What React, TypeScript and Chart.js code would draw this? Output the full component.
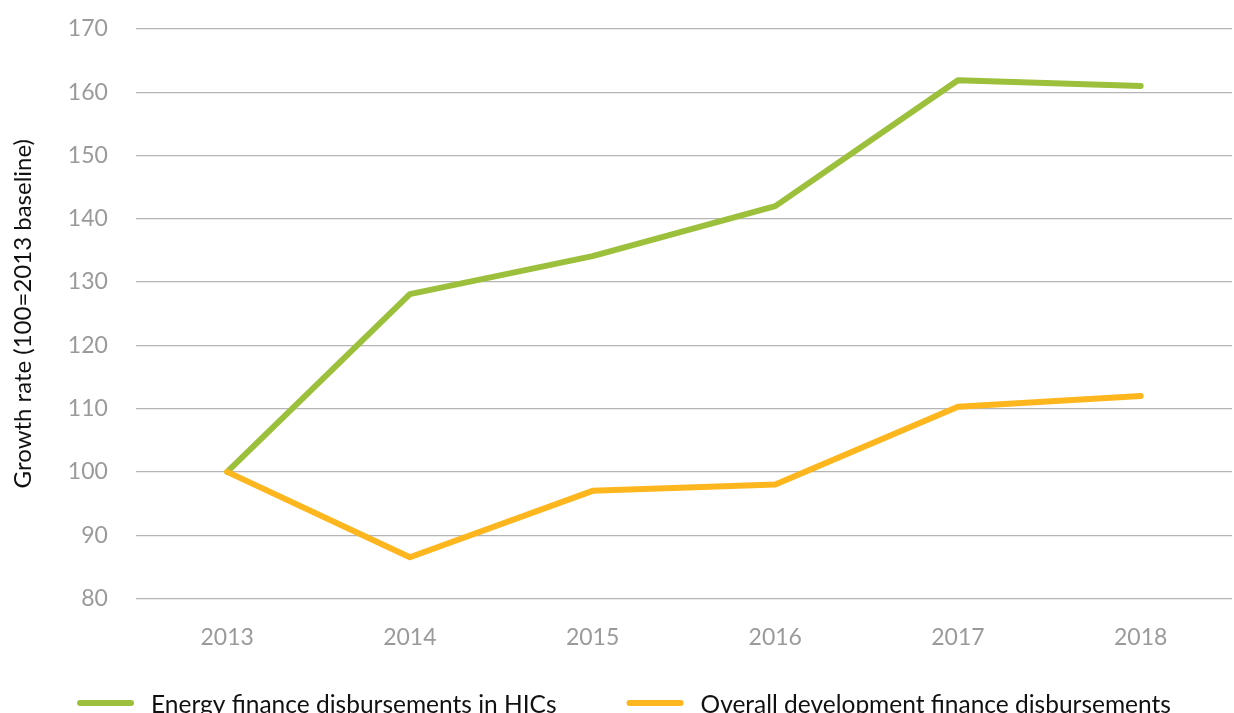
import React, { useEffect, useRef } from "react";
import { Chart, registerables } from "chart.js";

Chart.register(...registerables);

const years = ["2013", "2014", "2015", "2016", "2017", "2018"];
const energyHICs = [100, 128.1, 134.1, 142, 161.9, 161];
const overallDev = [100, 86.5, 97, 98, 110.3, 112];
const seriesNames = [
  "Energy finance disbursements in HICs",
  "Overall development finance disbursements",
];
const yTitle = "Growth rate (100=2013 baseline)";

const GREEN = "#9CC03B";
const ORANGE = "#FDB61E";
const FONT = "Lato, 'Open Sans', sans-serif";
const CLEAR = "rgba(0,0,0,0)";

const bottomLegend = {
  id: "bottomLegend",
  afterDraw(chart: any) {
    const ctx = chart.ctx;
    const datasets = chart.data.datasets;
    const fontSize = 24.5;
    const lineLen = 57;
    const gapText = 17;
    const gapItem = 70;
    ctx.save();
    ctx.font = `${fontSize}px ${FONT}`;
    const widths = datasets.map((d: any) => ctx.measureText(d.label).width);
    let total = 0;
    widths.forEach((w: number, i: number) => {
      total += lineLen + gapText + w + (i < widths.length - 1 ? gapItem : 0);
    });
    let x = chart.width / 2 + 7 - total / 2;
    const yLine = 703;
    const yBase = 713;
    datasets.forEach((d: any, i: number) => {
      ctx.strokeStyle = d.borderColor;
      ctx.lineWidth = 6;
      ctx.lineCap = "round";
      ctx.beginPath();
      ctx.moveTo(x + 3, yLine);
      ctx.lineTo(x + lineLen - 3, yLine);
      ctx.stroke();
      ctx.fillStyle = "#111";
      ctx.textAlign = "left";
      ctx.textBaseline = "alphabetic";
      ctx.fillText(d.label, x + lineLen + gapText, yBase);
      x += lineLen + gapText + widths[i] + gapItem;
    });
    ctx.restore();
  },
};

export default function App() {
  const ref = useRef<HTMLCanvasElement | null>(null);

  useEffect(() => {
    const canvas = ref.current;
    if (!canvas) return;
    const chart = new Chart(canvas, {
      type: "line",
      data: {
        labels: years,
        datasets: [
          {
            label: seriesNames[0],
            data: energyHICs,
            borderColor: GREEN,
            backgroundColor: GREEN,
            borderWidth: 6,
            pointRadius: 0,
            borderCapStyle: "round",
            borderJoinStyle: "round",
            tension: 0,
            order: 1,
          },
          {
            label: seriesNames[1],
            data: overallDev,
            borderColor: ORANGE,
            backgroundColor: ORANGE,
            borderWidth: 6,
            pointRadius: 0,
            borderCapStyle: "round",
            borderJoinStyle: "round",
            tension: 0,
            order: 0,
          },
        ],
      },
      options: {
        responsive: false,
        animation: false,
        layout: { padding: { top: 29, right: 2, left: 9, bottom: 62 } },
        plugins: {
          tooltip: { enabled: false },
          legend: { display: false },
        },
        scales: {
          x: {
            offset: true,
            grid: {
              display: true,
              color: CLEAR,
              drawTicks: true,
              tickLength: 25,
              tickColor: CLEAR,
            },
            border: { display: false },
            ticks: {
              color: "#9a9a9a",
              padding: 0,
              font: { family: FONT, size: 23 },
            },
          },
          y: {
            min: 80,
            max: 170,
            grid: {
              color: "#b5b5b5",
              lineWidth: 1.2,
              drawTicks: true,
              tickLength: 28,
              tickColor: CLEAR,
            },
            border: { display: false },
            ticks: {
              stepSize: 10,
              color: "#9a9a9a",
              padding: 0,
              font: { family: FONT, size: 23 },
            },
            title: {
              display: true,
              text: yTitle,
              color: "#111",
              padding: { top: 0, bottom: 30 },
              font: { family: FONT, size: 24 },
            },
          },
        },
      },
      plugins: [bottomLegend],
    });
    return () => chart.destroy();
  }, []);

  return (
    <div
      style={{
        position: "fixed",
        left: 0,
        top: 0,
        width: 1234,
        height: 713,
        overflow: "hidden",
        background: "#fff",
      }}
    >
      <canvas ref={ref} width={1234} height={713} style={{ display: "block" }} />
    </div>
  );
}
